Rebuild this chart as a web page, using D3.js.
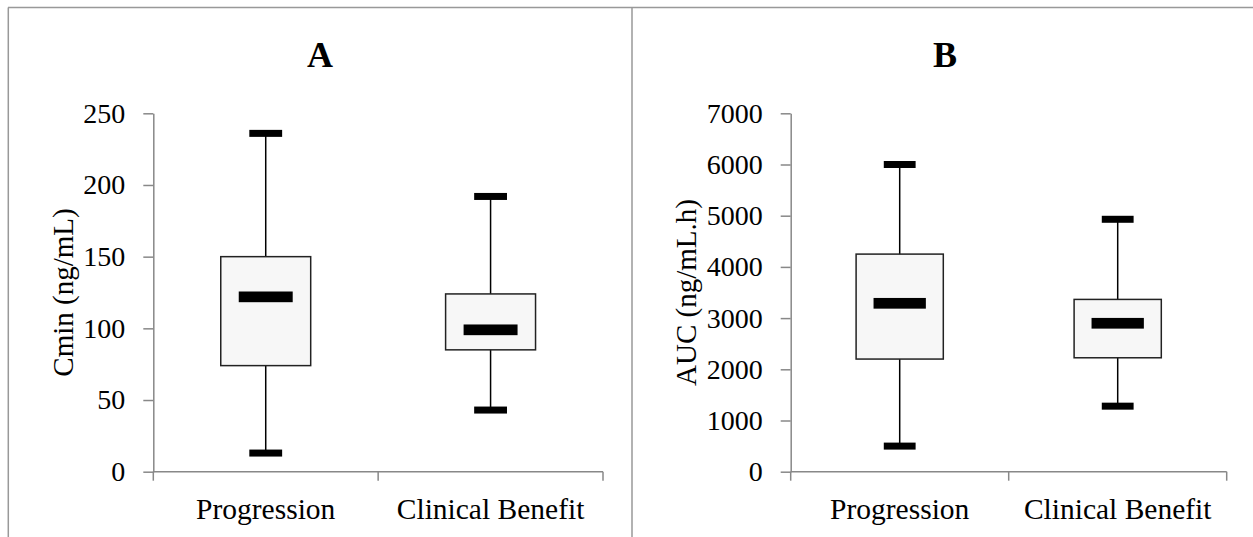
<!DOCTYPE html>
<html>
<head>
<meta charset="utf-8">
<script src="https://cdn.jsdelivr.net/npm/d3@7"></script>
<style>
  body { margin: 0; background: #fff; }
  svg text { font-family: "Liberation Serif", "Times New Roman", serif; fill: #000; }
</style>
</head>
<body>
<div id="chart"></div>
<script>
const width = 1253;
const height = 537;

const groups = ['Progression', 'Clinical Benefit'];

// panel A: Cmin (ng/mL)
const cminMin = [13, 43];
const cminQ1 = [74, 85];
const cminMedian = [122, 99];
const cminQ3 = [150, 124];
const cminMax = [236, 192];
const cminTicks = [0, 50, 100, 150, 200, 250];

// panel B: AUC (ng/mL.h)
const aucMin = [500, 1280];
const aucQ1 = [2200, 2225];
const aucMedian = [3290, 2900];
const aucQ3 = [4250, 3365];
const aucMax = [6000, 4930];
const aucTicks = [0, 1000, 2000, 3000, 4000, 5000, 6000, 7000];

const plotTop = 113.3;
const plotBottom = 471.7;
const frameColor = '#999';
const axisColor = '#888';

const svg = d3.select('#chart')
  .append('svg')
  .attr('width', width)
  .attr('height', height);

// outer frame: top line, left edge, divider
svg.append('line')
  .attr('x1', 8).attr('x2', width).attr('y1', 7.5).attr('y2', 7.5)
  .attr('stroke', frameColor).attr('stroke-width', 1.5);
svg.append('line')
  .attr('x1', 8.3).attr('x2', 8.3).attr('y1', 7.5).attr('y2', height)
  .attr('stroke', frameColor).attr('stroke-width', 1.5);
svg.append('line')
  .attr('x1', 632).attr('x2', 632).attr('y1', 7.5).attr('y2', height)
  .attr('stroke', frameColor).attr('stroke-width', 1.5);

const panels = [
  {title: 'A', titleX: 320, left: 153.3, right: 603, labelX: 63, yLabel: 'Cmin (ng/mL)',
   max: 250, ticks: cminTicks, lo: cminMin, q1: cminQ1, med: cminMedian, q3: cminQ3, hi: cminMax},
  {title: 'B', titleX: 945, left: 790.7, right: 1226.7, labelX: 686, yLabel: 'AUC (ng/mL.h)',
   max: 7000, ticks: aucTicks, lo: aucMin, q1: aucQ1, med: aucMedian, q3: aucQ3, hi: aucMax}
];

panels.forEach((p) => {
  const y = d3.scaleLinear()
    .domain([0, p.max])
    .range([plotBottom, plotTop]);

  const x = d3.scaleBand()
    .domain(groups)
    .range([p.left, p.right]);

  const bw = x.bandwidth();

  svg.append('text')
    .text(p.title)
    .attr('x', p.titleX)
    .attr('y', 67)
    .attr('text-anchor', 'middle')
    .style('font-size', '36px')
    .style('font-weight', 'bold');

  const yAxis = svg.append('g')
    .attr('transform', `translate(${p.left},0)`)
    .call(d3.axisLeft(y).tickValues(p.ticks).tickSize(10).tickSizeOuter(0).tickPadding(18).tickFormat(d3.format('d')));

  yAxis.select('.domain').attr('stroke', axisColor).attr('stroke-width', 1.5);
  yAxis.selectAll('.tick line').attr('stroke', axisColor).attr('stroke-width', 1.5);
  yAxis.selectAll('.tick text')
    .style('font-size', '28px')
    .style('font-family', '"Liberation Serif", serif')
    .attr('fill', '#000');

  svg.append('text')
    .text(p.yLabel)
    .attr('transform', `translate(${p.labelX},${(plotTop + plotBottom) / 2}) rotate(-90)`)
    .attr('text-anchor', 'middle')
    .attr('dy', '0.35em')
    .style('font-size', '29px');

  // x axis with ticks at band edges
  svg.append('line')
    .attr('x1', p.left).attr('x2', p.right)
    .attr('y1', plotBottom).attr('y2', plotBottom)
    .attr('stroke', axisColor).attr('stroke-width', 1.5);

  const edges = groups.map((g) => x(g)).concat([x.range()[1]]);
  svg.selectAll(null)
    .data(edges)
    .enter()
    .append('line')
    .attr('x1', (d) => d).attr('x2', (d) => d)
    .attr('y1', plotBottom).attr('y2', plotBottom + 9)
    .attr('stroke', axisColor).attr('stroke-width', 1.5);

  svg.selectAll(null)
    .data(groups)
    .enter()
    .append('text')
    .text((d) => d)
    .attr('x', (d) => x(d) + bw / 2)
    .attr('y', 519)
    .attr('text-anchor', 'middle')
    .style('font-size', '29.5px');

  const box = svg.selectAll(null)
    .data(groups)
    .enter()
    .append('g');

  // whiskers
  box.append('line')
    .attr('x1', (d) => x(d) + bw / 2).attr('x2', (d) => x(d) + bw / 2)
    .attr('y1', (d, i) => y(p.hi[i])).attr('y2', (d, i) => y(p.lo[i]))
    .attr('stroke', '#000').attr('stroke-width', 1.5);

  box.append('rect')
    .attr('x', (d) => x(d) + bw * 0.3)
    .attr('width', bw * 0.4)
    .attr('y', (d, i) => y(p.q3[i]))
    .attr('height', (d, i) => y(p.q1[i]) - y(p.q3[i]))
    .attr('fill', '#f7f7f7')
    .attr('stroke', '#222')
    .attr('stroke-width', 1.5);

  // whisker caps
  [p.hi, p.lo].forEach((vals) => {
    box.append('rect')
      .attr('x', (d) => x(d) + bw / 2 - bw * 0.073)
      .attr('width', bw * 0.146)
      .attr('y', (d, i) => y(vals[i]) - 3.5)
      .attr('height', 7)
      .attr('fill', '#000');
  });

  // median bar
  box.append('rect')
    .attr('x', (d) => x(d) + bw / 2 - bw * 0.12)
    .attr('width', bw * 0.24)
    .attr('y', (d, i) => y(p.med[i]) - 5.3)
    .attr('height', 10.7)
    .attr('fill', '#000');
});
</script>
</body>
</html>
